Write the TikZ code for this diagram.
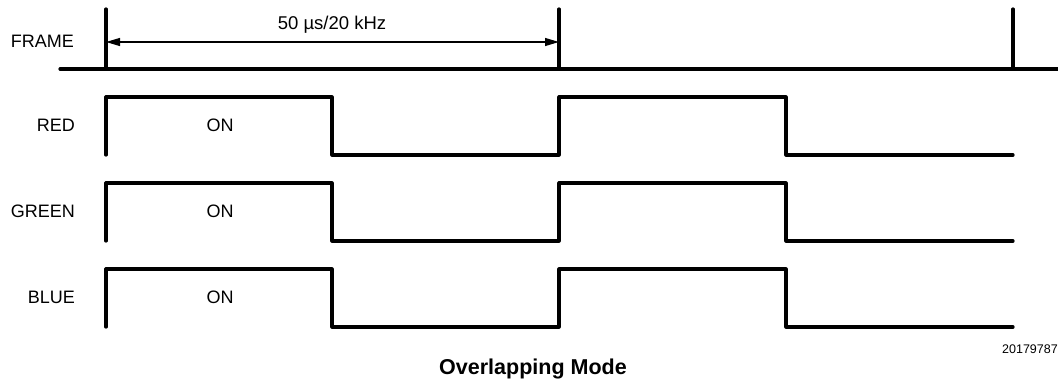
\documentclass[tikz,border=0pt]{standalone}
\usepackage{fontspec}
\setmainfont{Liberation Sans}
\usetikzlibrary{arrows.meta}
\begin{document}
\begin{tikzpicture}[x=1pt,y=-1pt,
  sig/.style={line width=3.2pt,line join=round,line cap=round},
  lbl/.style={font=\fontsize{18}{21}\selectfont,inner sep=0pt},
  dim/.style={line width=1.2pt,{Triangle[length=14pt,width=8pt]}-{Triangle[length=14pt,width=8pt]}}]
\useasboundingbox (0,0) rectangle (1058,383);
% FRAME
\node[lbl,anchor=east] (lframe) at (74,41) {FRAME};
\draw[sig] (60,69) -- (1058,69);
\coordinate (f1) at (106,42);
\coordinate (f2) at (559,42);
\draw[sig] (106,9) -- (106,69);
\draw[sig] (559,9) -- (559,69);
\draw[sig] (1013,9) -- (1013,69);
\draw[dim] (f1) -- (f2);
\node[lbl,font=\fontsize{18.5}{21}\selectfont] (period) at (332,25) {50 µs/20 kHz};
% signals
\foreach \n/\name/\hy/\ly in {red/RED/97/155, green/GREEN/183/241, blue/BLUE/269/327}{
  \node[lbl,anchor=east] (l\n) at (75,{(\hy+\ly)/2-1}) {\name};
  \node[lbl] (on\n) at (220,{(\hy+\ly)/2-1}) {ON};
  \draw[sig] (106,\ly) -- (106,\hy) -- (332,\hy) -- (332,\ly) -- (559,\ly) -- (559,\hy) -- (786,\hy) -- (786,\ly) -- (1013,\ly);
}
\node[font=\fontsize{12.5}{14}\selectfont,inner sep=0pt,anchor=east] (num) at (1058,349) {20179787};
\node[font=\bfseries\fontsize{21.5}{24}\selectfont,inner sep=0pt] (title) at (533,369) {Overlapping Mode};
\end{tikzpicture}
\end{document}
